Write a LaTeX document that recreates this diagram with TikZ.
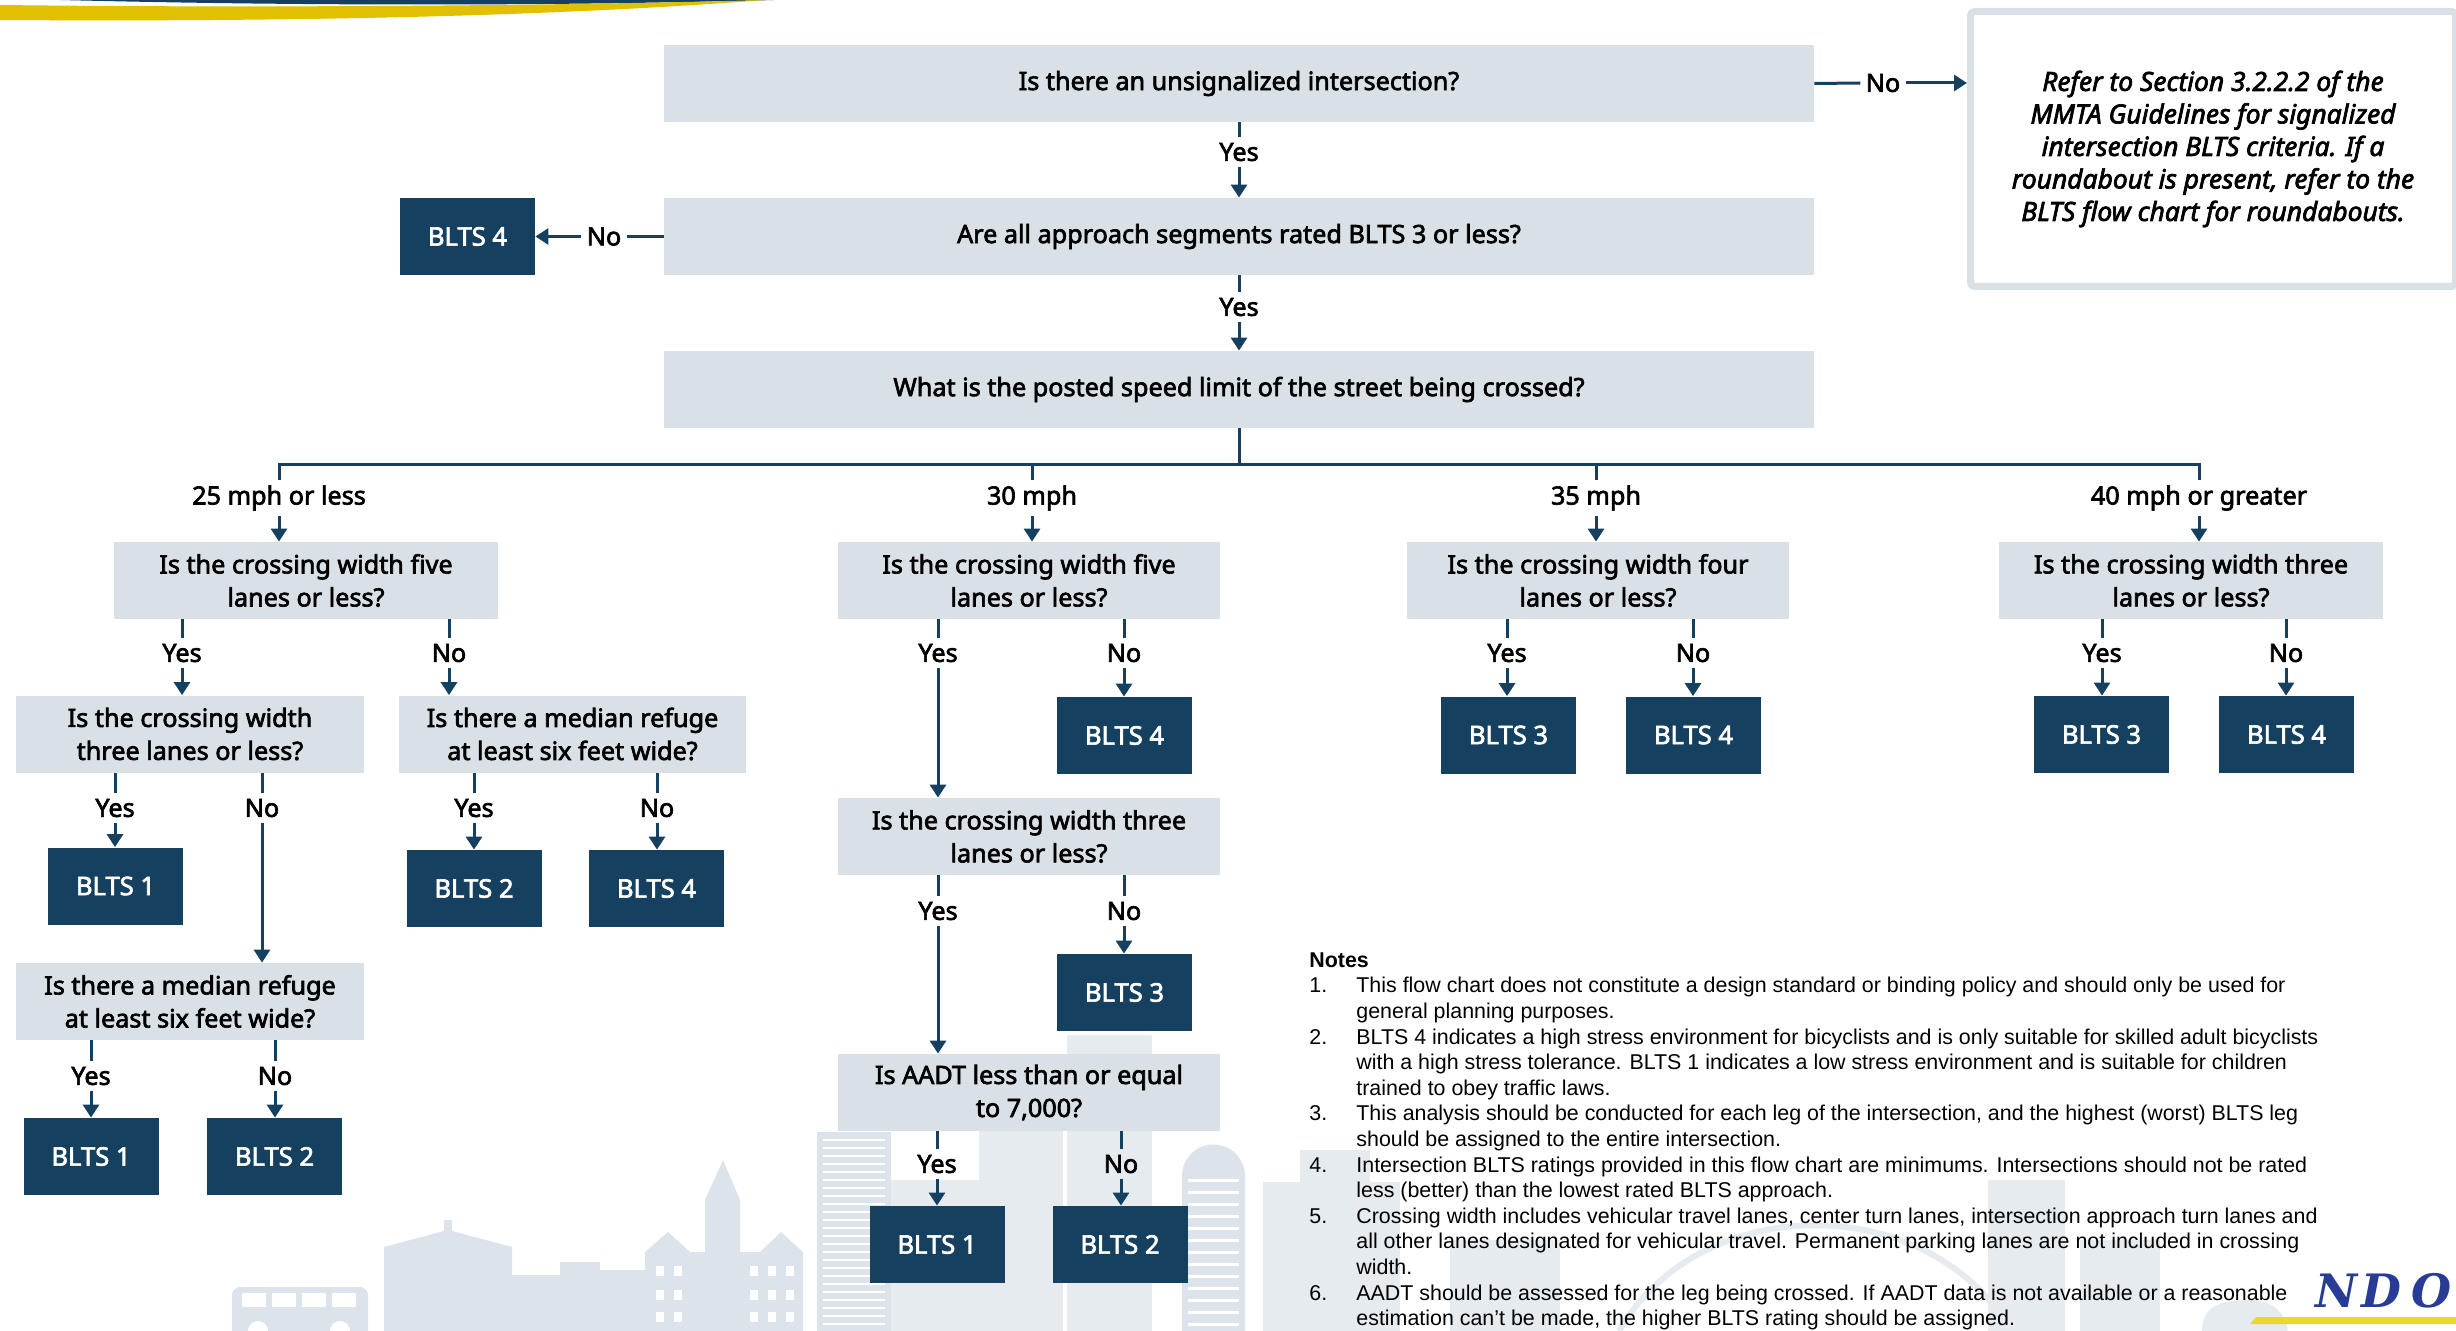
\documentclass[tikz,border=0pt]{standalone}
\usepackage{fontspec}
\setmainfont{Noto Sans}
\newfontfamily\semi{Noto Sans}[FakeBold=2.6]
\newfontfamily\notefont{Liberation Sans}
\newfontfamily\logofont{DejaVu Serif}
\usetikzlibrary{arrows.meta}

\definecolor{navy}{HTML}{154060}
\definecolor{pale}{HTML}{D9E0E6}
\definecolor{skyline}{HTML}{DCE3EA}
\definecolor{skylinefar}{HTML}{E6EBF0}
\definecolor{gold}{HTML}{E0C000}
\definecolor{logoblue}{HTML}{283C96}
\definecolor{logoyellow}{HTML}{EAD82C}

\tikzset{
  q/.style={fill=pale, inner sep=0pt, align=center, minimum height=38.5pt,
    font=\semi\fontsize{12.6}{16.5}\selectfont},
  blts/.style={fill=navy, text=white, inner sep=0pt, minimum width=67.5pt,
    minimum height=38.5pt, font=\semi\fontsize{12.8}{15}\selectfont},
  ans/.style={inner sep=2.5pt, font=\semi\fontsize{12.6}{14}\selectfont},
  link/.style={draw=navy, line width=1.5pt},
  arr/.style={link, -{Triangle[width=8pt,length=6.5pt]}},
}

\begin{document}
\begin{tikzpicture}[x=0.5pt,y=-0.5pt]
\useasboundingbox (0,0) rectangle (2456,1331);
\fill[white] (0,0) rectangle (2456,1331);

% city skyline in the background
\fill[skyline, rounded corners=4pt] (232,1287) rectangle (368,1345);
\foreach \x in {242,272,302,332} \fill[white] (\x,1293) rectangle ++(24,14);
\fill[white] (258,1331) circle[radius=5pt];
\fill[white] (340,1331) circle[radius=5pt];
\fill[skyline] (384,1331) -- (384,1247) -- (448,1230) -- (512,1247) -- (512,1331) -- cycle;
\fill[skyline] (444,1234) rectangle (452,1220);
\fill[skyline] (512,1331) -- (512,1275) -- (560,1275) -- (560,1262) -- (600,1262)
  -- (600,1270) -- (645,1270) -- (645,1331) -- cycle;
\fill[skyline] (645,1331) -- (645,1252) -- (668,1232) -- (690,1252) -- (705,1252)
  -- (705,1200) -- (723,1160) -- (740,1200) -- (740,1252) -- (760,1252)
  -- (781,1232) -- (803,1252) -- (803,1331) -- cycle;
\foreach \x in {656,674,750,768,786}
  \foreach \y in {1266,1290,1312} \fill[white] (\x,\y) rectangle ++(8,10);
\fill[skyline] (817,1132) rectangle (891,1331);
\foreach \y in {1140,1148,...,1326} \path[draw=white, line width=1pt] (823,\y) -- (885,\y);
\fill[skylinefar] (891,1180) rectangle (979,1331);
\fill[skylinefar] (979,1100) rectangle (1063,1331);
\fill[skylinefar] (1067,1035) rectangle (1152,1331);
\fill[skyline] (1182,1331) -- (1182,1176) arc[start angle=180, end angle=360, radius=31.5]
  -- (1245,1331) -- cycle;
\foreach \y in {1180,1192,...,1324} \path[draw=white, line width=1.5pt] (1188,\y) -- (1239,\y);
\fill[skylinefar] (1263,1182) rectangle (1400,1331);
\fill[skylinefar] (1300,1150) rectangle (1370,1182);
\fill[skylinefar] (1450,1240) rectangle (1560,1331);
\path[draw=skylinefar, line width=3pt] (1619,1331) .. controls (1700,1190) and (1930,1190) .. (2011,1331);
\fill[skylinefar] (1988,1180) rectangle (2065,1331);
\fill[skylinefar] (2080,1240) rectangle (2160,1331);
\fill[skylinefar, rounded corners=6pt] (2200,1340) -- (2205,1310) -- (2230,1300) -- (2265,1300)
  -- (2285,1315) -- (2290,1340) -- cycle;

% swoosh at the top
\fill[navy] (60,0) .. controls (300,6) and (550,6) .. (775,0) -- cycle;
\fill[gold] (0,5) .. controls (250,8) and (550,6) .. (765,0)
  .. controls (560,16) and (300,22) .. (0,20) -- cycle;

% first questions
\node[q, minimum width=575pt] (unsig) at (1239,83.5) {Is there an unsignalized intersection?};
\node[q, minimum width=575pt] (approach) at (1239,236.5) {Are all approach segments rated BLTS 3 or less?};
\node[q, minimum width=575pt] (speed) at (1239,389.5) {What is the posted speed limit of the street being crossed?};
\node[blts] (appfour) at (467.5,236.5) {BLTS 4};
\node[draw=pale, line width=3.5pt, rounded corners=2pt, minimum width=242.5pt,
  minimum height=137.5pt, align=center,
  font=\semi\itshape\fontsize{13.2}{16.25}\selectfont] (signal) at (2213,149)
  {Refer to Section 3.2.2.2 of the\\MMTA Guidelines for signalized\\intersection BLTS criteria. If a\\roundabout is present, refer to the\\BLTS flow chart for roundabouts.};

\node[ans] (unsigno) at (1883,83) {No};
\node[ans] (unsigyes) at (1239,152) {Yes};
\node[ans] (appno) at (604,236.5) {No};
\node[ans] (appyes) at (1239,307) {Yes};

\path[link] (unsig.east) -- (unsigno.west);
\path[arr] (unsigno.east) -- (unsigno.east -| signal.west);
\path[link] (unsig.south) -- (unsigyes.north);
\path[arr] (unsigyes.south) -- (approach.north);
\path[link] (approach.west) -- (appno.east);
\path[arr] (appno.west) -- (appfour.east);
\path[link] (approach.south) -- (appyes.north);
\path[arr] (appyes.south) -- (speed.north);

% speed limits
\coordinate (bus) at (1239,465);
\node[ans] (mph25) at (279,498) {25 mph or less};
\node[ans] (mph30) at (1032,498) {30 mph};
\node[ans] (mph35) at (1596,498) {35 mph};
\node[ans] (mph40) at (2199,498) {40 mph or greater};
\path[link] (speed.south) -- (bus);
\path[link] (mph25.north) -- (mph25.north |- bus) -- (mph40.north |- bus) -- (mph40.north);
\path[link] (mph30.north) -- (mph30.north |- bus);
\path[link] (mph35.north) -- (mph35.north |- bus);

\node[q, minimum width=192pt] (q25) at (306,580.5) {Is the crossing width five\\lanes or less?};
\node[q, minimum width=191pt] (q30) at (1029,580.5) {Is the crossing width five\\lanes or less?};
\node[q, minimum width=191pt] (q35) at (1598,580.5) {Is the crossing width four\\lanes or less?};
\node[q, minimum width=192pt] (q40) at (2191,580.5) {Is the crossing width three\\lanes or less?};
\foreach \m in {25,30,35,40}
  \path[arr] (mph\m.south) -- (mph\m.south |- q\m.north);

\node[ans] (q25yes) at (182,653) {Yes};
\node[ans] (q25no) at (449,653) {No};
\node[ans] (q30yes) at (938,653) {Yes};
\node[ans] (q30no) at (1124,653) {No};
\node[ans] (q35yes) at (1507,653) {Yes};
\node[ans] (q35no) at (1693,653) {No};
\node[ans] (q40yes) at (2102,653) {Yes};
\node[ans] (q40no) at (2286,653) {No};

% 25 mph or less
\node[q, minimum width=174pt] (lanes3) at (190,734) {Is the crossing width\\three lanes or less?};
\node[q, minimum width=173.5pt] (refuge1) at (572.5,734) {Is there a median refuge\\at least six feet wide?};
\node[ans] (l3yes) at (115,808) {Yes};
\node[ans] (l3no) at (262,808) {No};
\node[ans] (rf1yes) at (474,808) {Yes};
\node[ans] (rf1no) at (657,808) {No};
\node[blts] (l3one) at (115.5,886) {BLTS 1};
\node[blts] (rf1two) at (474,888.5) {BLTS 2};
\node[blts] (rf1four) at (656.5,888.5) {BLTS 4};
\node[q, minimum width=174pt] (refuge2) at (190,1001.5) {Is there a median refuge\\at least six feet wide?};
\node[ans] (rf2yes) at (91,1076) {Yes};
\node[ans] (rf2no) at (275,1076) {No};
\node[blts] (rf2one) at (91,1156.5) {BLTS 1};
\node[blts] (rf2two) at (274.5,1156.5) {BLTS 2};

% 30 mph
\node[blts] (q30four) at (1124.5,735.5) {BLTS 4};
\node[q, minimum width=191pt] (width3) at (1029,836.5) {Is the crossing width three\\lanes or less?};
\node[ans] (w3yes) at (938,911) {Yes};
\node[ans] (w3no) at (1124,911) {No};
\node[blts] (w3three) at (1124.5,992.5) {BLTS 3};
\node[q, minimum width=191pt] (aadt) at (1029,1092.5) {Is AADT less than or equal\\to 7,000?};
\node[ans] (aadtyes) at (937,1164) {Yes};
\node[ans] (aadtno) at (1121,1164) {No};
\node[blts] (aadtone) at (937,1244.5) {BLTS 1};
\node[blts] (aadttwo) at (1120,1244.5) {BLTS 2};

% 35 and 40 mph
\node[blts] (q35three) at (1508.5,735) {BLTS 3};
\node[blts] (q35four) at (1693.5,735) {BLTS 4};
\node[blts] (q40three) at (2101.5,734.5) {BLTS 3};
\node[blts] (q40four) at (2286.5,734.5) {BLTS 4};

% yes/no links: question, answer, target
\foreach \from/\a/\to in {q25/q25yes/lanes3, q25/q25no/refuge1, q30/q30yes/width3,
    q30/q30no/q30four, q35/q35yes/q35three, q35/q35no/q35four, q40/q40yes/q40three,
    q40/q40no/q40four, lanes3/l3yes/l3one, lanes3/l3no/refuge2, refuge1/rf1yes/rf1two,
    refuge1/rf1no/rf1four, refuge2/rf2yes/rf2one, refuge2/rf2no/rf2two,
    width3/w3yes/aadt, width3/w3no/w3three, aadt/aadtyes/aadtone, aadt/aadtno/aadttwo}{
  \path[link] (\a.north) -- (\a.north |- \from.south);
  \path[arr] (\a.south) -- (\a.south |- \to.north);
}

% notes
\node[anchor=north west, inner sep=0pt, font=\notefont\fontsize{10.7}{12.8}\selectfont] (notes) at (1309,949) {%
\begin{tabular}{@{}p{23.5pt}@{}l@{}}
\multicolumn{2}{@{}l}{\bfseries Notes}\\
1. & This flow chart does not constitute a design standard or binding policy and should only be used for\\
   & general planning purposes.\\
2. & BLTS 4 indicates a high stress environment for bicyclists and is only suitable for skilled adult bicyclists\\
   & with a high stress tolerance. BLTS 1 indicates a low stress environment and is suitable for children\\
   & trained to obey traffic laws.\\
3. & This analysis should be conducted for each leg of the intersection, and the highest (worst) BLTS leg\\
   & should be assigned to the entire intersection.\\
4. & Intersection BLTS ratings provided in this flow chart are minimums. Intersections should not be rated\\
   & less (better) than the lowest rated BLTS approach.\\
5. & Crossing width includes vehicular travel lanes, center turn lanes, intersection approach turn lanes and\\
   & all other lanes designated for vehicular travel. Permanent parking lanes are not included in crossing\\
   & width.\\
6. & AADT should be assessed for the leg being crossed. If AADT data is not available or a reasonable\\
   & estimation can’t be made, the higher BLTS rating should be assigned.
\end{tabular}};

% logo in the corner
\fill[logoyellow] (2256,1317) -- (2456,1317) -- (2456,1324) -- (2250,1324) -- cycle;
\node[anchor=base east, inner sep=0pt, text=logoblue,
  font=\logofont\bfseries\itshape\fontsize{23}{23}\selectfont] (logo) at (2452,1307)
  {N\kern2pt D\kern5pt O};
\end{tikzpicture}
\end{document}
